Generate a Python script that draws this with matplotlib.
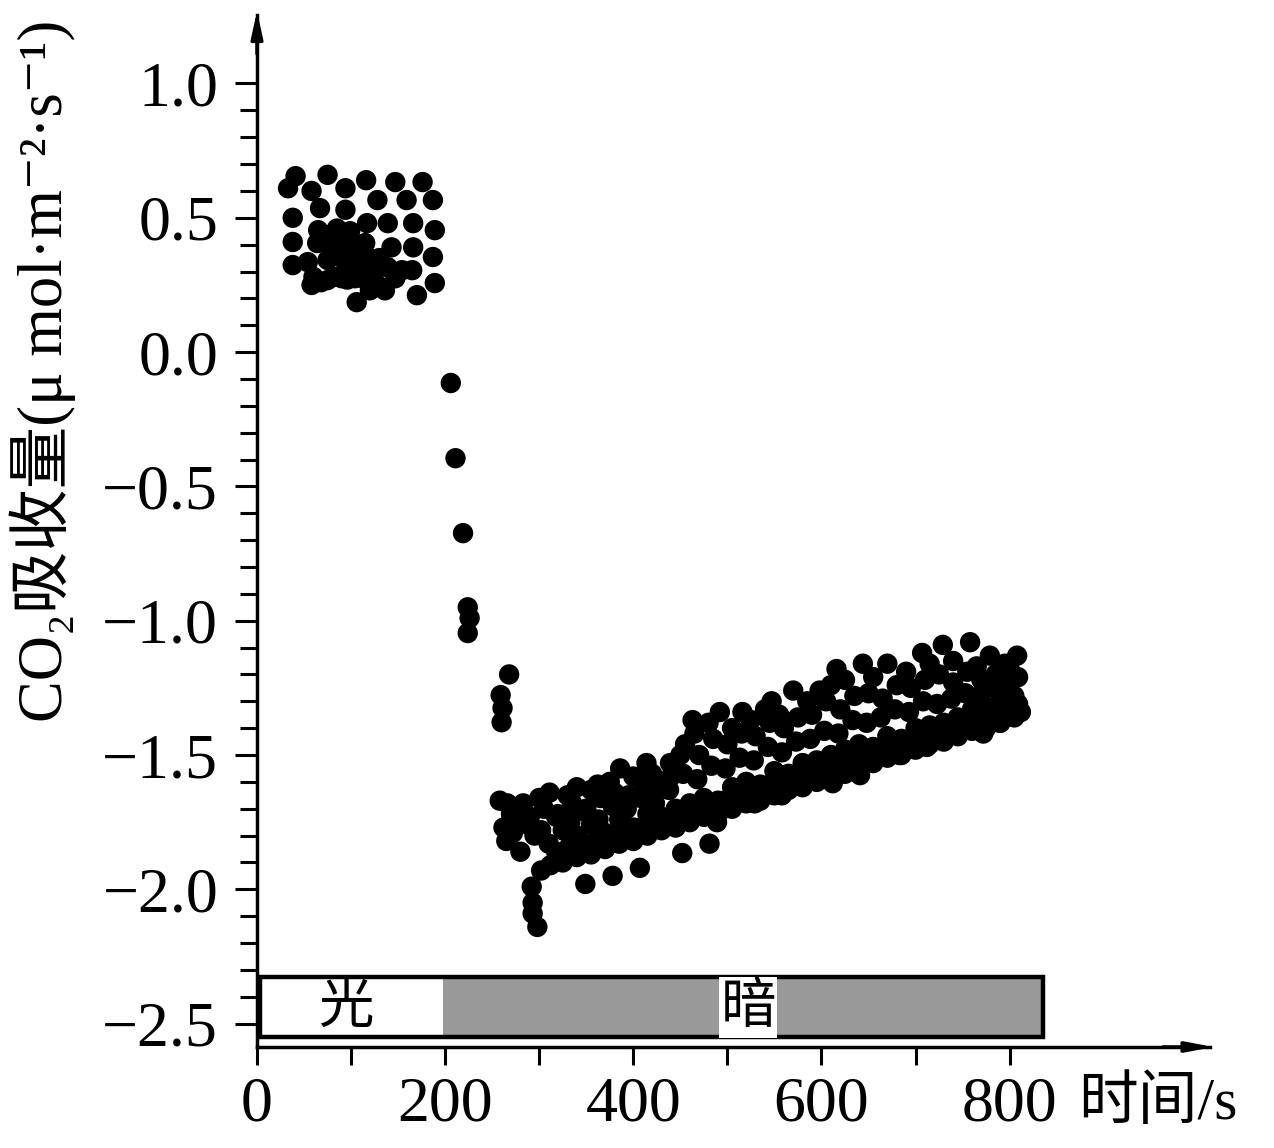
import numpy as np
import matplotlib
matplotlib.use("Agg")
import matplotlib.pyplot as plt
from matplotlib.patches import Rectangle
from matplotlib.ticker import FixedLocator

# light phase (s, umol m-2 s-1)
light_x = [33, 41, 58, 75, 94, 116, 128, 147, 159, 176, 187,
           38, 38, 38, 67, 94, 139, 166, 189, 143, 166, 187, 165, 189, 170,
           65, 64, 86, 101, 117, 115, 117, 54, 75, 94, 58, 75, 90, 104, 122,
           139, 147, 136, 106, 154, 99, 120, 80, 110,
           70, 80, 85, 95, 108, 112, 125, 130, 60, 68, 82, 96, 115, 128]
light_y = [0.61, 0.655, 0.60, 0.66, 0.61, 0.64, 0.566, 0.633, 0.566, 0.633, 0.566,
           0.50, 0.41, 0.324, 0.536, 0.53, 0.48, 0.48, 0.454, 0.39, 0.39, 0.354, 0.305, 0.257, 0.212,
           0.454, 0.406, 0.39, 0.40, 0.48, 0.406, 0.354, 0.335, 0.343, 0.335, 0.25, 0.268, 0.275, 0.275, 0.268,
           0.316, 0.275, 0.23, 0.186, 0.305, 0.45, 0.23, 0.44, 0.30,
           0.42, 0.38, 0.46, 0.42, 0.36, 0.30, 0.30, 0.35, 0.28, 0.26, 0.28, 0.27, 0.27, 0.25]

# transition after light off
trans_x = [206, 211, 219, 224, 226, 224, 268, 259, 261, 260]
trans_y = [-0.115, -0.395, -0.674, -0.95, -0.99, -1.046, -1.20, -1.277, -1.325, -1.378]

# dark phase, upper band
dark_a_x = [258, 266, 283, 311, 340, 362, 386, 414, 439, 463, 492, 516, 547, 570,
            598, 616, 644, 670, 707, 729, 758, 779, 808, 809, 809]
dark_a_y = [-1.67, -1.68, -1.68, -1.64, -1.62, -1.61, -1.55, -1.53, -1.53, -1.37, -1.34, -1.34, -1.30, -1.26,
            -1.26, -1.18, -1.16, -1.16, -1.12, -1.09, -1.08, -1.13, -1.13, -1.21, -1.31]

dark_f_x = [270, 300, 330, 355, 375, 400, 420, 450, 465, 480, 505, 525, 540, 555, 585, 610, 625,
            655, 690, 715, 740, 765, 795]
dark_f_y = [-1.72, -1.66, -1.65, -1.63, -1.60, -1.58, -1.57, -1.50, -1.42, -1.38, -1.40, -1.37, -1.33,
            -1.35, -1.30, -1.24, -1.22, -1.21, -1.19, -1.16, -1.15, -1.17, -1.16]

dark_b_x = [262, 275, 290, 305, 320, 335, 350, 365, 380, 395, 410, 425, 440, 455, 470, 485, 500,
            515, 530, 545, 560, 575, 590, 605, 620, 635, 650, 665, 680, 695, 710, 725, 740, 755,
            770, 785, 800]
dark_b_y = [-1.77, -1.74, -1.73, -1.70, -1.72, -1.68, -1.70, -1.66, -1.64, -1.65, -1.60, -1.62, -1.58,
            -1.46, -1.50, -1.44, -1.46, -1.42, -1.43, -1.38, -1.40, -1.36, -1.35, -1.30, -1.33, -1.28,
            -1.27, -1.29, -1.24, -1.25, -1.22, -1.20, -1.23, -1.19, -1.22, -1.20, -1.18]

dark_h_x = [272, 288, 302, 318, 333, 348, 363, 378, 393, 408, 423, 438, 453, 468, 483, 498, 513,
            528, 543, 558, 573, 588, 603, 618, 633, 648, 663, 678, 693, 708, 723, 738, 753, 768,
            783, 798]
dark_h_y = [-1.79, -1.76, -1.78, -1.73, -1.75, -1.71, -1.74, -1.69, -1.70, -1.66, -1.68, -1.63, -1.57,
            -1.59, -1.54, -1.55, -1.51, -1.52, -1.47, -1.49, -1.45, -1.44, -1.41, -1.42, -1.37, -1.38,
            -1.36, -1.33, -1.34, -1.30, -1.31, -1.29, -1.27, -1.28, -1.25, -1.24]

dark_c_x = [265, 280, 295, 310, 325, 340, 355, 370, 385, 400, 415, 430, 445, 460, 475, 490, 505,
            520, 535, 550, 565, 580, 595, 610, 625, 640, 655, 670, 685, 700, 715, 730, 745, 760,
            775, 790, 805]
dark_c_y = [-1.82, -1.86, -1.80, -1.83, -1.78, -1.80, -1.76, -1.79, -1.74, -1.77, -1.72, -1.73, -1.70,
            -1.68, -1.66, -1.67, -1.62, -1.60, -1.61, -1.56, -1.57, -1.53, -1.52, -1.50, -1.48, -1.46,
            -1.47, -1.43, -1.44, -1.40, -1.39, -1.38, -1.36, -1.33, -1.32, -1.30, -1.28]

dark_g_x = [318, 332, 348, 362, 378, 392, 408, 422, 438, 452, 468, 482, 498, 512, 528, 542, 558,
            572, 588, 602, 618, 632, 648, 662, 678, 692, 708, 722, 738, 752, 768, 782, 798]
dark_g_y = [-1.86, -1.84, -1.83, -1.82, -1.80, -1.79, -1.77, -1.76, -1.74, -1.72, -1.71, -1.69, -1.67,
            -1.65, -1.64, -1.62, -1.60, -1.59, -1.57, -1.55, -1.53, -1.52, -1.50, -1.49, -1.47, -1.45,
            -1.43, -1.42, -1.40, -1.39, -1.37, -1.35, -1.33]

# dark phase, lowest band
dark_d_x = [292, 293, 293, 298, 302, 312, 325, 340, 355, 370, 385, 400, 415, 430, 445, 460, 475,
            490, 505, 520, 535, 550, 565, 580, 595, 610, 625, 640, 655, 670, 685, 700, 715, 730,
            745, 760, 775, 790, 805, 812]
dark_d_y = [-1.99, -2.05, -2.09, -2.14, -1.93, -1.91, -1.90, -1.88, -1.87, -1.85, -1.83, -1.82, -1.80,
            -1.78, -1.77, -1.75, -1.73, -1.72, -1.70, -1.68, -1.67, -1.65, -1.63, -1.62, -1.60, -1.58,
            -1.57, -1.55, -1.53, -1.51, -1.50, -1.48, -1.46, -1.45, -1.43, -1.41, -1.40, -1.38, -1.36, -1.34]

# scattered points under the lowest band
dark_e_x = [349, 378, 407, 452, 481, 489, 529, 558, 612, 641, 683, 712, 772, 790, 638]
dark_e_y = [-1.98, -1.95, -1.92, -1.865, -1.83, -1.75, -1.68, -1.65, -1.605, -1.575, -1.50, -1.47,
            -1.42, -1.38, -1.556]

x_ticks = [0, 200, 400, 600, 800]
y_ticks = [1.0, 0.5, 0.0, -0.5, -1.0, -1.5, -2.0, -2.5]

serif = ['Liberation Serif', 'DejaVu Serif', 'Noto Sans CJK SC']
plt.rcParams['font.family'] = serif

fig = plt.figure(figsize=(12.74, 11.48), dpi=100)
ax = fig.add_axes([257 / 1274, 1 - 1047 / 1148, (1210 - 257) / 1274, (1047 - 15) / 1148])

all_x = (light_x + trans_x + dark_a_x + dark_f_x + dark_b_x + dark_h_x + dark_c_x + dark_g_x
         + dark_d_x + dark_e_x)
all_y = (light_y + trans_y + dark_a_y + dark_f_y + dark_b_y + dark_h_y + dark_c_y + dark_g_y
         + dark_d_y + dark_e_y)
ax.scatter(all_x, all_y, s=215, color='black', edgecolors='none', zorder=3)

ax.set_xlim(0, 1013)
ax.set_ylim(-2.587, 1.255)

for side in ['top', 'right']:
    ax.spines[side].set_visible(False)
for side in ['left', 'bottom']:
    ax.spines[side].set_linewidth(2.5)

# arrow heads
ax.annotate('', xy=(0, 1.28), xytext=(0, 1.10), xycoords='data',
            arrowprops=dict(arrowstyle='-|>,head_length=1.6,head_width=0.35', color='black', lw=2.5),
            annotation_clip=False)
ax.annotate('', xy=(1020, -2.587), xytext=(960, -2.587), xycoords='data',
            arrowprops=dict(arrowstyle='-|>,head_length=1.6,head_width=0.3', color='black', lw=2.5),
            annotation_clip=False)

ax.set_xticks(x_ticks)
ax.set_xticklabels([str(v) for v in x_ticks])
ax.xaxis.set_minor_locator(FixedLocator([100, 300, 500, 700]))
ax.set_yticks(y_ticks)
ax.set_yticklabels([f"{v:.1f}".replace('-', '\u2212') for v in y_ticks])
ax.yaxis.set_minor_locator(FixedLocator(np.round(np.arange(-2.5, 1.01, 0.1), 2)))

ax.tick_params(axis='y', which='major', length=16, width=2.2, labelsize=46, pad=12, direction='out')
ax.tick_params(axis='y', which='minor', length=12, width=2.2, direction='out')
ax.tick_params(axis='x', which='both', length=13, width=2.2, labelsize=46, pad=8, direction='out')

ax.set_ylabel('CO\u2082吸收量(\u03bc mol\u00b7m\u207b\u00b2\u00b7s\u207b\u00b9)', fontsize=45)
ax.yaxis.set_label_coords(-0.19, 0.655)

fig.text(1158 / 1274, 1 - 1105 / 1148, '时间/s', fontsize=43, ha='center', va='center',
         family=['Liberation Serif', 'Noto Sans CJK SC'])

# light / dark bar
y0, y1 = -2.55, -2.327
ax.add_patch(Rectangle((3, y0), 195, y1 - y0, facecolor='white', edgecolor='none', zorder=2))
ax.add_patch(Rectangle((198, y0), 637, y1 - y0, facecolor='#999999', edgecolor='none', zorder=2))
ax.add_patch(Rectangle((3, y0), 832, y1 - y0, facecolor='none', edgecolor='black', lw=3.2, zorder=4,
                       clip_on=False))
ax.text(94, (y0 + y1) / 2, '光', fontsize=40, ha='center', va='center', zorder=5,
        family=['Noto Sans CJK SC'])
ax.text(522, (y0 + y1) / 2, '暗', fontsize=40, ha='center', va='center', zorder=5,
        family=['Noto Sans CJK SC'],
        bbox=dict(facecolor='white', edgecolor='none', pad=1))

fig.savefig('out.png', dpi=100)
